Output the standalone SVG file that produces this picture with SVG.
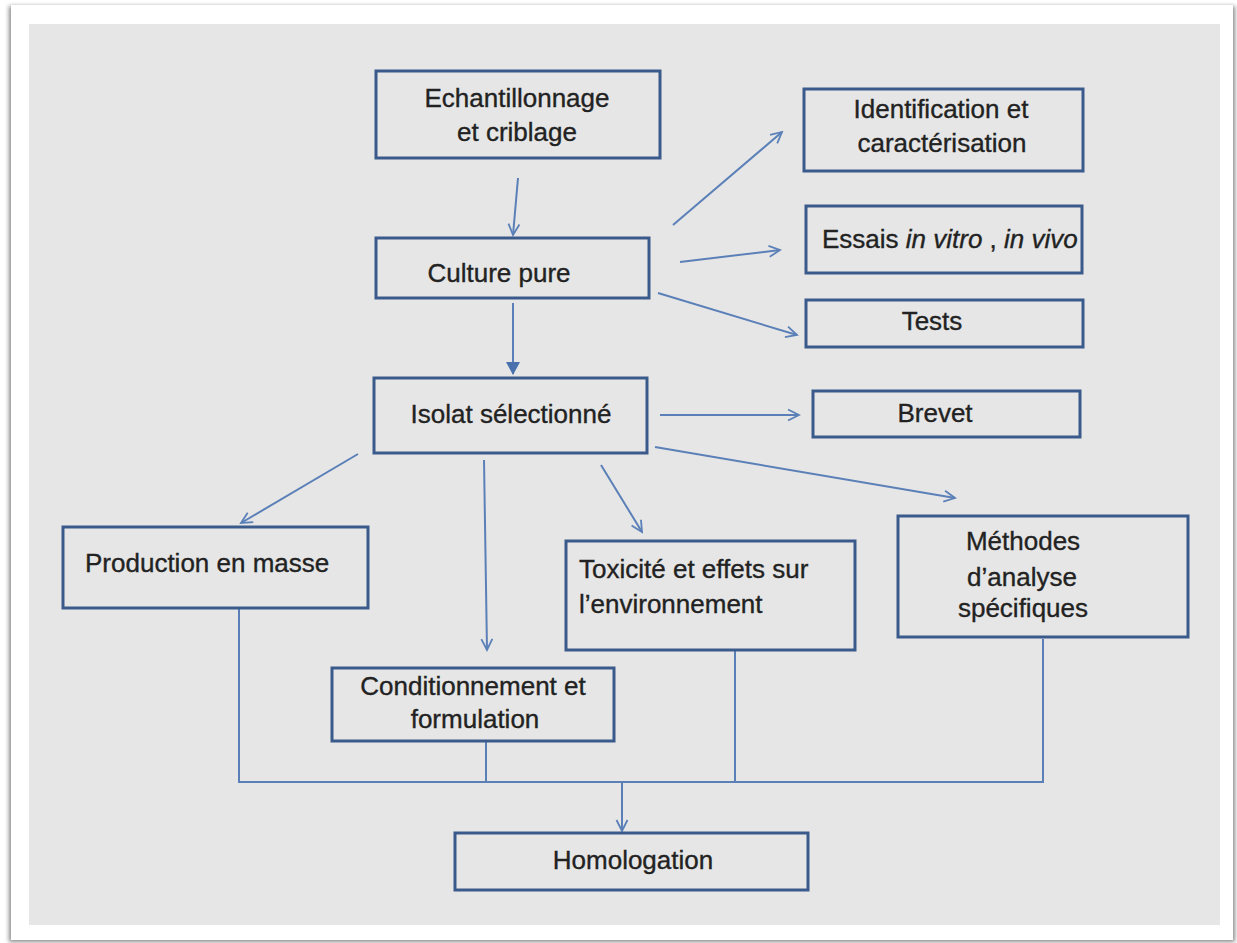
<svg xmlns="http://www.w3.org/2000/svg" width="1237" height="943" viewBox="0 0 1237 943">
<style>
.box{fill:#e6e6e6;stroke:#3a5a8c;stroke-width:3}
.t{font-family:"Liberation Sans",Arial,sans-serif;font-size:26px;fill:#222222;stroke:#222222;stroke-width:0.35}
.c{text-anchor:middle}
.ln{fill:none;stroke:#5b80b8;stroke-width:2}
.ar{marker-end:url(#open)}
</style>
<defs>
<filter id="sh" x="-5%" y="-5%" width="110%" height="110%">
<feGaussianBlur stdDeviation="2"/>
</filter>
<marker id="open" viewBox="0 0 14 14" markerWidth="14" markerHeight="14" refX="12" refY="7" orient="auto" markerUnits="userSpaceOnUse">
<path d="M1,1.5 L12,7 L1,12.5" fill="none" stroke="#5b80b8" stroke-width="1.8"/>
</marker>
<marker id="fill" viewBox="0 0 14 14" markerWidth="14" markerHeight="14" refX="12" refY="7" orient="auto" markerUnits="userSpaceOnUse">
<path d="M0,0 L13,7 L0,14 Z" fill="#4a70ad"/>
</marker>
</defs>
<rect x="0" y="0" width="1237" height="943" fill="#ffffff"/>
<rect x="9" y="6" width="1226" height="936" fill="#8a8a8a" filter="url(#sh)"/>
<rect x="11" y="5" width="1222" height="935" fill="#ffffff"/>
<rect x="29" y="24" width="1191" height="901" fill="#e6e6e6"/>

<g id="connectors">
<line class="ln ar" x1="518" y1="178" x2="513" y2="235"/>
<line class="ln ar" x1="673" y1="225" x2="782" y2="132"/>
<line class="ln ar" x1="680" y1="262" x2="780" y2="250"/>
<line class="ln ar" x1="658" y1="293" x2="797" y2="335"/>
<line class="ln" x1="513" y1="303" x2="513" y2="374" marker-end="url(#fill)"/>
<line class="ln ar" x1="660" y1="415" x2="799" y2="415"/>
<line class="ln ar" x1="358" y1="454" x2="241" y2="523"/>
<line class="ln ar" x1="484" y1="460" x2="487" y2="650"/>
<line class="ln ar" x1="601" y1="465" x2="642" y2="532"/>
<line class="ln ar" x1="655" y1="447" x2="955" y2="498"/>
<polyline class="ln" points="239,609 239,782 1043,782 1043,639"/>
<line class="ln" x1="486" y1="742" x2="486" y2="782"/>
<line class="ln" x1="735" y1="651" x2="735" y2="782"/>
<line class="ln ar" x1="622" y1="782" x2="622" y2="831"/>
</g>

<g id="echantillonnage">
<rect class="box" x="376" y="71" width="284" height="87"/>
<text class="t c" x="517" y="107">Echantillonnage</text>
<text class="t c" x="517" y="141">et criblage</text>
</g>
<g id="culture">
<rect class="box" x="376" y="238" width="273" height="60"/>
<text class="t c" x="499" y="282">Culture pure</text>
</g>
<g id="identification">
<rect class="box" x="804" y="89" width="279" height="82"/>
<text class="t c" x="941" y="118">Identification et</text>
<text class="t c" x="942" y="152">caractérisation</text>
</g>
<g id="essais">
<rect class="box" x="806" y="206" width="276" height="67"/>
<text class="t" x="822" y="248">Essais <tspan font-style="italic">in vitro</tspan> , <tspan font-style="italic">in vivo</tspan></text>
</g>
<g id="tests">
<rect class="box" x="806" y="300" width="277" height="47"/>
<text class="t c" x="932" y="330">Tests</text>
</g>
<g id="isolat">
<rect class="box" x="374" y="378" width="273" height="75"/>
<text class="t c" x="511" y="423">Isolat sélectionné</text>
</g>
<g id="brevet">
<rect class="box" x="813" y="391" width="267" height="46"/>
<text class="t c" x="935" y="422">Brevet</text>
</g>
<g id="production">
<rect class="box" x="63" y="527" width="305" height="81"/>
<text class="t" x="85" y="572">Production en masse</text>
</g>
<g id="conditionnement">
<rect class="box" x="332" y="668" width="282" height="73"/>
<text class="t c" x="473" y="695">Conditionnement et</text>
<text class="t c" x="475" y="728">formulation</text>
</g>
<g id="toxicite">
<rect class="box" x="566" y="541" width="289" height="109"/>
<text class="t" x="579" y="578">Toxicité et effets sur</text>
<text class="t" x="579" y="613">l’environnement</text>
</g>
<g id="methodes">
<rect class="box" x="898" y="516" width="290" height="121"/>
<text class="t c" x="1023" y="550">Méthodes</text>
<text class="t c" x="1022" y="586">d’analyse</text>
<text class="t c" x="1023" y="617">spécifiques</text>
</g>
<g id="homologation">
<rect class="box" x="455" y="833" width="353" height="57"/>
<text class="t c" x="633" y="869">Homologation</text>
</g>
</svg>
